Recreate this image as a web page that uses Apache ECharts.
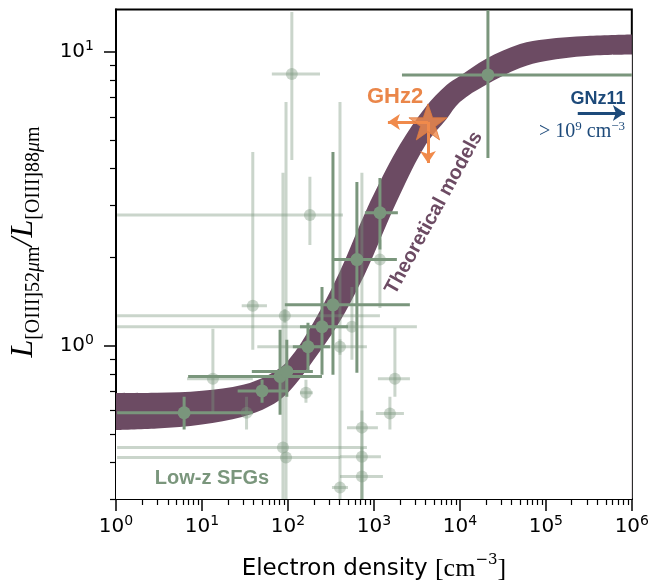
<!DOCTYPE html>
<html>
<head>
<meta charset="utf-8">
<script src="https://cdn.jsdelivr.net/npm/echarts@6/dist/echarts.min.js"></script>
<style>
html, body { margin: 0; background: #fff; }
#chart { width: 652px; height: 587px; }
</style>
</head>
<body>
<div id="chart"></div>
<script>
// theoretical models: lower / upper edge of the ratio band
var modelN    = [1, 3, 10, 30, 60, 100, 200, 400, 700, 1000, 2000, 4000, 7000, 1e4, 2e4, 5e4, 1e5, 3e5, 1e6];
var modelLow  = [0.515, 0.521, 0.538, 0.572, 0.619, 0.690, 0.894, 1.204, 1.634, 2.05, 3.25, 4.82, 5.90, 6.74, 7.70, 8.80, 9.30, 9.67, 9.78];
var modelHigh = [0.688, 0.690, 0.701, 0.735, 0.795, 0.887, 1.204, 1.781, 2.61, 3.28, 4.82, 6.49, 7.70, 8.27, 9.45, 10.62, 11.04, 11.31, 11.44];

// low-z SFGs, well constrained
var darkN   = [6.2, 50, 81, 97, 171, 249, 334, 634, 1175, 21200];
var darkR   = [0.59, 0.70, 0.784, 0.816, 0.99, 1.158, 1.375, 1.96, 2.83, 8.34];
var darkNLo = [1.03, 26, 6.9, 38, 114, 138, 92, 325, 785, 2120];
var darkNHi = [39, 97, 249, 195, 308, 499, 2620, 1850, 1900, 1e6];
var darkRLo = [0.517, 0.638, 0.581, 0.669, 0.807, 0.795, 0.795, 0.807, 2.12, 4.35];
var darkRHi = [0.669, 0.764, 1.13, 1.045, 1.195, 1.58, 4.56, 3.60, 3.72, 13.86];

// low-z SFGs, poorly constrained
var lightN   = [111, 180, 39, 13.4, 33, 92, 162, 555, 403, 1175, 1755, 1535, 725, 725, 725, 403, 87.5, 95];
var lightR   = [8.40, 2.78, 1.365, 0.770, 0.590, 1.262, 0.69, 1.158, 0.99, 1.96, 0.770, 0.586, 0.525, 0.418, 0.358, 0.328, 0.449, 0.415];
var lightNLo = [65, 1.03, 29, 6.7, 30, 1.03, 138, 1.03, 44, 1000, 1113, 1055, 486, 403, 403, 325, 1.03, 1.03];
var lightNHi = [236, 436, 57, 39, 37, 1175, 195, 3162, 829, 1400, 2623, 2234, 1113, 1206, 1273, 499, 829, 403];
var lightRLo = [4.28, 2.20, 0.967, 0.59, 0.517, 1.195, 0.638, 0.894, 0.93, 1.34, 0.669, 0.517, 0.25, 0.25, 0.25, 0.25, 0.25, 0.25];
var lightRHi = [13.65, 3.75, 4.56, 1.14, 0.669, 1.33, 0.764, 1.58, 1.05, 2.29, 1.149, 0.669, 3.87, 0.60, 0.45, 6.75, 3.87, 6.75];

// GHz2 (upper limits on density and ratio)
var ghz2N = [4250];
var ghz2R = [5.77];
var ghz2LimN = [1455];
var ghz2LimR = [4.18];

// GNz11 arrow (density > 1e9)
var gnz11N = [235000, 830000];
var gnz11R = [6.19, 6.19];

var xMajor = [0, 1, 2, 3, 4, 5, 6];
var yMajor = [0, 1];

var lg = function (v) { return Math.log10(v); };

var xMinor = [];
for (var d = 0; d < 6; d++) {
	for (var k = 2; k < 10; k++) xMinor.push(d + lg(k));
}
var yMinor = [];
for (var k = 3; k < 10; k++) yMinor.push(lg(k / 10));
for (var k = 2; k < 10; k++) yMinor.push(lg(k));

var GREEN = '#7a967c';
var GREEN_L = 'rgba(122,150,124,0.4)';
var PURPLE = '#6c4b63';
var ORANGE = '#f08a4b';
var NAVY = '#1d4a7a';

function errData(n, r, nLo, nHi, rLo, rHi) {
	return n.map(function (v, i) {
		return [lg(v), lg(r[i]), lg(nLo[i]), lg(nHi[i]), lg(rLo[i]), lg(rHi[i])];
	});
}

function errSeries(data, color, lw, rad, z) {
	return {
		type: 'custom',
		data: data,
		z: z,
		clip: true,
		silent: true,
		encode: {x: [0, 2, 3], y: [1, 4, 5]},
		renderItem: function (params, api) {
			var c = api.coord([api.value(0), api.value(1)]);
			var x1 = api.coord([api.value(2), api.value(1)])[0];
			var x2 = api.coord([api.value(3), api.value(1)])[0];
			var y1 = api.coord([api.value(0), api.value(4)])[1];
			var y2 = api.coord([api.value(0), api.value(5)])[1];
			var st = {stroke: color, lineWidth: lw, fill: null};
			return {
				type: 'group',
				children: [
					{type: 'line', shape: {x1: x1, y1: c[1], x2: x2, y2: c[1]}, style: st},
					{type: 'line', shape: {x1: c[0], y1: y1, x2: c[0], y2: y2}, style: st},
					{type: 'circle', shape: {cx: c[0], cy: c[1], r: rad}, style: {fill: color}}
				]
			};
		}
	};
}

var tickRich = {
	b: {fontFamily: 'DejaVu Sans', fontSize: 20, lineHeight: 25, color: '#000'},
	s: {fontFamily: 'DejaVu Sans', fontSize: 14, lineHeight: 14, verticalAlign: 'top', color: '#000'}
};
function tickLabel(v) {
	return '{b|10}{s|' + Math.round(v) + '}';
}

var STAR = 'path://M50,0 L61.8,35.1 L98.1,35.1 L68.8,56.8 L79.4,91 L50,70.2 L20.6,91 L31.2,56.8 L1.9,35.1 L38.2,35.1 Z';

var option = {
	animation: false,
	backgroundColor: '#fff',
	grid: {
		left: 116, right: 20, top: 9.5, bottom: 87.5,
		show: true, borderColor: '#000', borderWidth: 2, backgroundColor: 'transparent'
	},
	xAxis: [{
		type: 'value', min: 0, max: 6,
		axisLine: {show: true, onZero: false, lineStyle: {color: '#000', width: 2}},
		axisTick: {show: true, length: 12, lineStyle: {color: '#000', width: 1.5}, customValues: xMajor},
		axisLabel: {customValues: xMajor, formatter: tickLabel, rich: tickRich, margin: 15},
		splitLine: {show: false},
		name: '{a|Electron density }{c|[cm}{s|−3}{c|]}',
		nameLocation: 'middle',
		nameGap: 54,
		nameTextStyle: {
			rich: {
				a: {fontFamily: 'DejaVu Sans', fontSize: 23, lineHeight: 32, color: '#000'},
				c: {fontFamily: 'Liberation Serif', fontSize: 26, lineHeight: 32, color: '#000'},
				s: {fontFamily: 'DejaVu Serif', fontSize: 15, lineHeight: 15, verticalAlign: 'top', color: '#000'}
			}
		}
	}, {
		type: 'value', min: 0, max: 6, position: 'bottom',
		axisLine: {show: false, onZero: false},
		axisTick: {show: true, length: 6, lineStyle: {color: '#000', width: 1.2}, customValues: xMinor},
		axisLabel: {show: false},
		splitLine: {show: false}
	}],
	yAxis: [{
		type: 'value', min: lg(0.3), max: lg(13.93),
		axisLine: {show: true, onZero: false, lineStyle: {color: '#000', width: 2}},
		axisTick: {show: true, length: 12, lineStyle: {color: '#000', width: 1.5}, customValues: yMajor},
		axisLabel: {customValues: yMajor, formatter: tickLabel, rich: tickRich, margin: 22},
		splitLine: {show: false}
	}, {
		type: 'value', min: lg(0.3), max: lg(13.93), position: 'left',
		axisLine: {show: false, onZero: false},
		axisTick: {show: true, length: 6, lineStyle: {color: '#000', width: 1.2}, customValues: yMinor},
		axisLabel: {show: false},
		splitLine: {show: false}
	}],
	series: [
		{
			// upper edge of the model band, filled down to the axis
			type: 'line', symbol: 'none', smooth: 0.35, silent: true, z: 1,
			lineStyle: {width: 0},
			areaStyle: {color: PURPLE, opacity: 1, origin: 'start'},
			data: modelN.map(function (n, i) { return [lg(n), lg(modelHigh[i])]; })
		},
		{
			// lower edge, white fill cuts the band out
			type: 'line', symbol: 'none', smooth: 0.35, silent: true, z: 1,
			lineStyle: {width: 0},
			areaStyle: {color: '#fff', opacity: 1, origin: 'start'},
			data: modelN.map(function (n, i) { return [lg(n), lg(modelLow[i])]; })
		},
		errSeries(errData(lightN, lightR, lightNLo, lightNHi, lightRLo, lightRHi), GREEN_L, 3, 6, 3),
		errSeries(errData(darkN, darkR, darkNLo, darkNHi, darkRLo, darkRHi), GREEN, 3, 6.5, 4),
		{
			type: 'lines', coordinateSystem: 'cartesian2d', z: 8, silent: true,
			symbol: ['none', 'arrow'], symbolSize: 12,
			lineStyle: {color: ORANGE, width: 3, opacity: 1},
			data: [
				{coords: [[lg(ghz2N[0]), lg(ghz2R[0])], [lg(ghz2LimN[0]), lg(ghz2R[0])]]},
				{coords: [[lg(ghz2N[0]), lg(ghz2R[0])], [lg(ghz2N[0]), lg(ghz2LimR[0])]]}
			]
		},
		{
			type: 'scatter', z: 9, silent: true,
			symbol: STAR, symbolSize: 38, symbolKeepAspect: true,
			itemStyle: {color: ORANGE, borderColor: '#e07a3c', borderWidth: 1},
			data: [[lg(ghz2N[0]), lg(ghz2R[0])]]
		},
		{
			type: 'lines', coordinateSystem: 'cartesian2d', z: 8, silent: true,
			symbol: ['none', 'arrow'], symbolSize: 12,
			lineStyle: {color: NAVY, width: 3, opacity: 1},
			data: [{coords: [[lg(gnz11N[0]), lg(gnz11R[0])], [lg(gnz11N[1]), lg(gnz11R[1])]]}]
		}
	],
	graphic: [
		{
			type: 'text', x: 26, y: 242, rotation: Math.PI / 2, z: 100,
			style: {
				text: '{L|L}{s|[OIII]52}{m|μ}{s|m}{L|/L}{s|[OIII]88}{m|μ}{s|m}',
				align: 'center', verticalAlign: 'middle',
				rich: {
					L: {fontFamily: 'Liberation Serif', fontStyle: 'italic', fontSize: 32, lineHeight: 36, verticalAlign: 'top', fill: '#000'},
					s: {fontFamily: 'Liberation Serif', fontSize: 20, lineHeight: 20, verticalAlign: 'bottom', fill: '#000'},
					m: {fontFamily: 'Liberation Serif', fontStyle: 'italic', fontSize: 20, lineHeight: 20, verticalAlign: 'bottom', fill: '#000'}
				}
			}
		},
		{
			type: 'text', x: 395, y: 97, z: 100,
			style: {text: 'GHz2', fill: '#ea8649', fontFamily: 'Liberation Sans', fontWeight: 'bold', fontSize: 22, align: 'center', verticalAlign: 'middle'}
		},
		{
			type: 'text', x: 598, y: 99, z: 100,
			style: {text: 'GNz11', fill: NAVY, fontFamily: 'Liberation Sans', fontWeight: 'bold', fontSize: 18, align: 'center', verticalAlign: 'middle'}
		},
		{
			type: 'text', x: 582, y: 132, z: 100,
			style: {
				text: '{r|> 10}{s|9}{r| cm}{s|−3}',
				align: 'center', verticalAlign: 'middle',
				rich: {
					r: {fontFamily: 'Liberation Serif', fontSize: 20, lineHeight: 24, fill: NAVY},
					s: {fontFamily: 'Liberation Serif', fontSize: 13, lineHeight: 13, verticalAlign: 'top', fill: NAVY}
				}
			}
		},
		{
			type: 'text', x: 434, y: 213, rotation: 1.07, z: 100,
			style: {text: 'Theoretical models', fill: PURPLE, fontFamily: 'Liberation Sans', fontWeight: 'bold', fontSize: 20, align: 'center', verticalAlign: 'middle'}
		},
		{
			type: 'text', x: 212, y: 478, z: 100,
			style: {text: 'Low-z SFGs', fill: GREEN, fontFamily: 'Liberation Sans', fontWeight: 'bold', fontSize: 20, align: 'center', verticalAlign: 'middle'}
		}
	]
};

var chart = echarts.init(document.getElementById('chart'));
chart.setOption(option);
</script>
</body>
</html>
